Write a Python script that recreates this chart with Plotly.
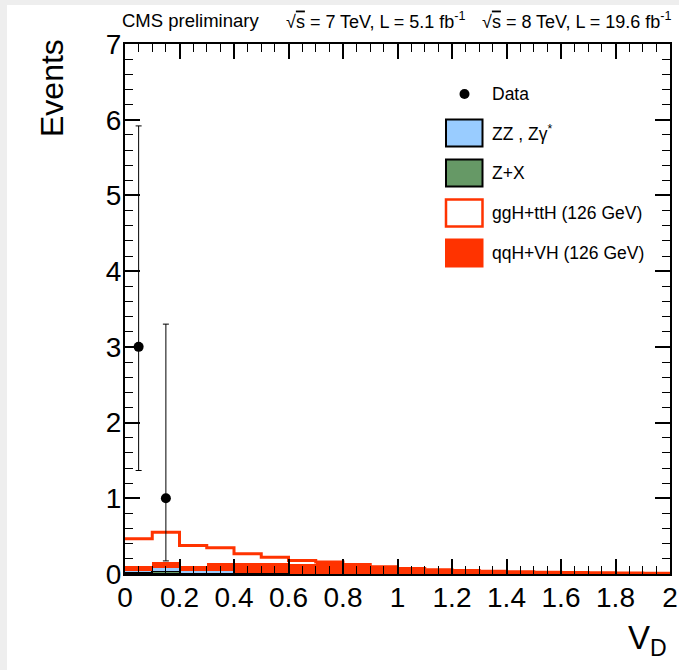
import plotly.graph_objects as go

# V_D distribution, 20 bins of width 0.1 between 0 and 2
bin_centers = [0.05, 0.15, 0.25, 0.35, 0.45, 0.55, 0.65, 0.75, 0.85, 0.95,
               1.05, 1.15, 1.25, 1.35, 1.45, 1.55, 1.65, 1.75, 1.85, 1.95]
bin_edges = [0.0, 0.1, 0.2, 0.3, 0.4, 0.5, 0.6, 0.7, 0.8, 0.9, 1.0,
             1.1, 1.2, 1.3, 1.4, 1.5, 1.6, 1.7, 1.8, 1.9, 2.0]

# stacked expectations (events per bin)
zx_events = [0.008, 0.020, 0.005, 0.004, 0.004, 0.002, 0.001, 0.001, 0.001, 0.0,
             0.0, 0.0, 0.0, 0.0, 0.0, 0.0, 0.0, 0.0, 0.0, 0.0]
zz_events = [0.038, 0.057, 0.035, 0.031, 0.011, 0.006, 0.004, 0.003, 0.002, 0.002,
             0.001, 0.001, 0.001, 0.0, 0.0, 0.0, 0.0, 0.0, 0.0, 0.0]
qqh_events = [0.054, 0.088, 0.068, 0.108, 0.128, 0.135, 0.125, 0.139, 0.109, 0.084,
              0.063, 0.049, 0.039, 0.032, 0.027, 0.021, 0.017, 0.013, 0.011, 0.009]
ggh_events = [0.366, 0.388, 0.269, 0.203, 0.124, 0.079, 0.048, 0.015, 0.013, 0.009,
              0.008, 0.006, 0.005, 0.004, 0.003, 0.003, 0.002, 0.002, 0.001, 0.001]

# observed events with asymmetric Poisson intervals
data_x = [0.05, 0.15]
data_y = [3, 1]
data_err_up = [2.918, 2.300]
data_err_down = [1.633, 0.827]

y_range = [0, 7]
x_range = [0, 2]

RED = "#ff3300"
BLUE = "#99ccff"
GREEN = "#669966"
FONT = "Liberation Sans, Arial, Helvetica, sans-serif"

W_FIG, H_FIG = 679, 670
M_L, M_R, M_T, M_B = 125, 9, 44, 96
PW = W_FIG - M_L - M_R
PH = H_FIG - M_T - M_B


def px_x(px):
    return (px - M_L) / PW


def px_y(py):
    return (H_FIG - M_B - py) / PH


fig = go.Figure()

fig.add_trace(go.Bar(x=bin_centers, y=zx_events, width=0.1, name="Z+X",
                     marker=dict(color=GREEN, line=dict(color="black", width=1.5))))
fig.add_trace(go.Bar(x=bin_centers, y=zz_events, width=0.1, name="ZZ",
                     marker=dict(color=BLUE, line=dict(color="black", width=1.5))))
fig.add_trace(go.Bar(x=bin_centers, y=qqh_events, width=0.1, name="qqH+VH",
                     marker=dict(color=RED, line=dict(width=0))))

# total stack outline (ggH+ttH on top of everything)
totals = [a + b + c + d for a, b, c, d in zip(zx_events, zz_events, qqh_events, ggh_events)]
step_y = totals + [totals[-1]]
fig.add_trace(go.Scatter(x=bin_edges, y=step_y, mode="lines", line_shape="hv",
                         line=dict(color=RED, width=3), name="ggH+ttH"))

fig.add_trace(go.Scatter(
    x=data_x, y=data_y, mode="markers", name="Data",
    marker=dict(color="black", size=10),
    error_y=dict(type="data", symmetric=False, array=data_err_up,
                 arrayminus=data_err_down, color="black", thickness=1, width=3),
))

axis_common = dict(
    showline=True, linecolor="black", linewidth=2, mirror="ticks",
    ticks="inside", tickcolor="black", tickwidth=1.5, ticklen=15,
    showgrid=False, zeroline=False, automargin=False,
    tickfont=dict(family=FONT, size=28, color="black"),
)

fig.update_xaxes(range=x_range, dtick=0.2, tick0=0,
                 minor=dict(dtick=0.05, ticks="inside", ticklen=8, tickcolor="black", tickwidth=1.2),
                 tickvals=[0, 0.2, 0.4, 0.6, 0.8, 1.0, 1.2, 1.4, 1.6, 1.8, 2.0],
                 ticktext=["0", "0.2", "0.4", "0.6", "0.8", "1", "1.2", "1.4", "1.6", "1.8", "2"],
                 ticklabelstandoff=-3,
                 **axis_common)
fig.update_yaxes(range=y_range, dtick=1, tick0=0,
                 minor=dict(dtick=0.2, ticks="inside", ticklen=8, tickcolor="black", tickwidth=1.2),
                 ticklabelstandoff=-4,
                 **axis_common)

shapes = []
annotations = []

# white page panel over a light grey surround
shapes.append(dict(type="rect", xref="paper", yref="paper", layer="below",
                   x0=px_x(7), x1=px_x(690), y0=px_y(680), y1=px_y(5),
                   fillcolor="white", line=dict(width=0)))

# legend
legend_rows = [
    ("Data", 94, None),
    ("ZZ , Zγ<sup>*</sup>", 133, dict(fillcolor=BLUE, line=dict(color="black", width=2))),
    ("Z+X", 173, dict(fillcolor=GREEN, line=dict(color="black", width=2))),
    ("ggH+ttH (126 GeV)", 213, dict(fillcolor="white", line=dict(color=RED, width=2.5))),
    ("qqH+VH (126 GeV)", 253, dict(fillcolor=RED, line=dict(color=RED, width=2))),
]
for label, yc, style in legend_rows:
    if style is None:
        shapes.append(dict(type="circle", xref="paper", yref="paper",
                           x0=px_x(459.5), x1=px_x(469.5), y0=px_y(99), y1=px_y(89),
                           fillcolor="black", line=dict(color="black", width=0)))
    else:
        shapes.append(dict(type="rect", xref="paper", yref="paper",
                           x0=px_x(446), x1=px_x(482.5), y0=px_y(yc + 13.5), y1=px_y(yc - 13.5),
                           **style))
    annotations.append(dict(text=label, xref="paper", yref="paper", x=px_x(490), y=px_y(yc),
                            xanchor="left", yanchor="middle", showarrow=False,
                            font=dict(family=FONT, size=17.5, color="black")))

# header texts
annotations.append(dict(text="CMS preliminary", xref="paper", yref="paper",
                        x=px_x(120), y=px_y(20), xanchor="left", yanchor="middle",
                        showarrow=False, font=dict(family=FONT, size=18.5, color="black")))
annotations.append(dict(text="√<span style='text-decoration:overline'>s</span> = 7 TeV, L = 5.1 fb<sup>-1</sup>",
                        xref="paper", yref="paper", x=px_x(284), y=px_y(20),
                        xanchor="left", yanchor="middle", showarrow=False,
                        font=dict(family=FONT, size=18, color="black")))
annotations.append(dict(text="√<span style='text-decoration:overline'>s</span> = 8 TeV, L = 19.6 fb<sup>-1</sup>",
                        xref="paper", yref="paper", x=px_x(674), y=px_y(20),
                        xanchor="right", yanchor="middle", showarrow=False,
                        font=dict(family=FONT, size=18, color="black")))

# axis titles
annotations.append(dict(text="Events", xref="paper", yref="paper",
                        x=px_x(52), y=px_y(37), xanchor="center", yanchor="top",
                        textangle=-90, showarrow=False,
                        font=dict(family=FONT, size=32, color="black")))
annotations.append(dict(text="V<sub>D</sub>", xref="paper", yref="paper",
                        x=px_x(669), y=px_y(640), xanchor="right", yanchor="middle",
                        showarrow=False, font=dict(family=FONT, size=33, color="black")))

fig.update_layout(
    width=W_FIG, height=H_FIG,
    margin=dict(l=M_L, r=M_R, t=M_T, b=M_B, pad=0, autoexpand=False),
    barmode="stack", bargap=0,
    paper_bgcolor="#eeeeee", plot_bgcolor="white",
    showlegend=False,
    shapes=shapes, annotations=annotations,
    font=dict(family=FONT, color="black"),
)

fig.write_html("out.html", config={"responsive": False})
